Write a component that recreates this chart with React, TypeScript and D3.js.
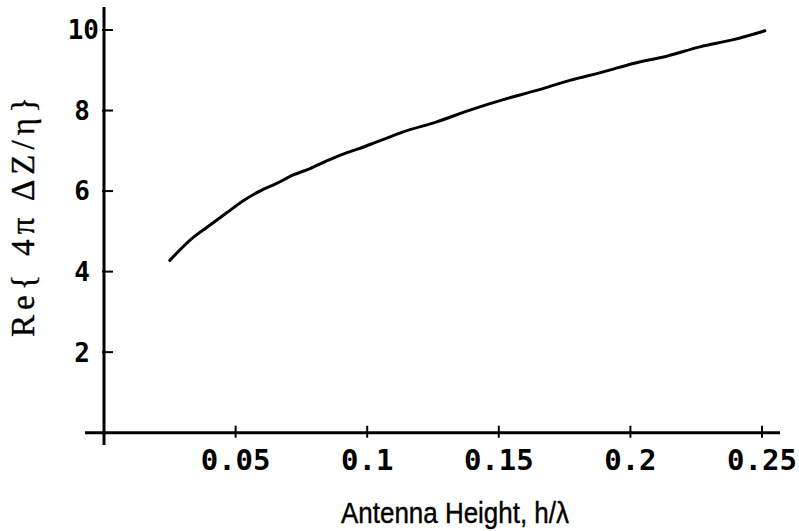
import React from "react";
import * as d3 from "d3";

const heights = [0.025, 0.0339, 0.0402, 0.0466, 0.0529, 0.0592, 0.0656, 0.0719, 0.0783, 0.0846, 0.0909, 0.0972, 0.1036, 0.1137, 0.1264, 0.139, 0.1517, 0.1644, 0.177, 0.1897, 0.2011, 0.2138, 0.2264, 0.2391, 0.2511];
const reValues = [4.28, 4.85, 5.15, 5.46, 5.76, 6.0, 6.19, 6.4, 6.56, 6.75, 6.92, 7.06, 7.22, 7.47, 7.72, 8.01, 8.27, 8.5, 8.75, 8.96, 9.17, 9.35, 9.58, 9.76, 9.98];
const xTicks = [0.05, 0.1, 0.15, 0.2, 0.25];
const xTickLabels = ["0.05", "0.1", "0.15", "0.2", "0.25"];
const yTicks = [2, 4, 6, 8, 10];
const yTickLabels = ["2", "4", "6", "8", "10"];
const xTitle = "Antenna Height, h/\u03bb";
const yTitle = "Re{ 4\u03c0 \u0394Z/\u03b7}";

export default function App() {
  const W = 799, H = 531;
  const x = d3.scaleLinear().domain([0, 0.25]).range([104, 762]);
  const y = d3.scaleLinear().domain([0, 10]).range([432.7, 30]);
  const pts = heights.map((h, i) => [h, reValues[i]] as [number, number]);
  const line = d3.line<[number, number]>().x(d => x(d[0])).y(d => y(d[1])).curve(d3.curveMonotoneX);
  const mono = "'DejaVu Sans Mono', monospace";
  return (
    <svg width={W} height={H} style={{ position: "absolute", left: 0, top: 0, background: "#fff" }}>
      <line x1={x(0)} x2={x(0)} y1={7} y2={445} stroke="#000" strokeWidth={3} />
      <line x1={85} x2={780} y1={y(0)} y2={y(0)} stroke="#000" strokeWidth={3} />
      {yTicks.map((t, i) => (
        <g key={"y" + t}>
          <line x1={x(0) - 2} x2={x(0) + 9} y1={y(t)} y2={y(t)} stroke="#000" strokeWidth={2} />
          <text x={yTickLabels[i].length > 1 ? 99 : 90} y={y(t)} dy="0.36em" textAnchor="end"
            fontFamily={mono} fontWeight="bold" fontSize={26} fill="#000">{yTickLabels[i]}</text>
        </g>
      ))}
      {xTicks.map((t, i) => (
        <g key={"x" + t}>
          <line x1={x(t)} x2={x(t)} y1={y(0) - 7} y2={y(0) + 5} stroke="#000" strokeWidth={2} />
          <text x={x(t)} y={470} textAnchor="middle"
            fontFamily={mono} fontWeight="bold" fontSize={29} fill="#000">{xTickLabels[i]}</text>
        </g>
      ))}
      <path d={line(pts) || ""} fill="none" stroke="#000" strokeWidth={3} strokeLinecap="round" />
      <text x={455} y={523} textAnchor="middle" fontFamily="'Liberation Sans', Arial, sans-serif"
        fontSize={29} textLength={228} lengthAdjust="spacingAndGlyphs" fill="#000" stroke="#000" strokeWidth={0.4}>{xTitle}</text>
      <text transform={`translate(34,217) rotate(-90)`} textAnchor="middle"
        fontFamily="'Liberation Serif', 'Times New Roman', serif" fontSize={33}
        textLength={240} lengthAdjust="spacing" fill="#000" stroke="#000" strokeWidth={0.4}>{yTitle}</text>
    </svg>
  );
}
